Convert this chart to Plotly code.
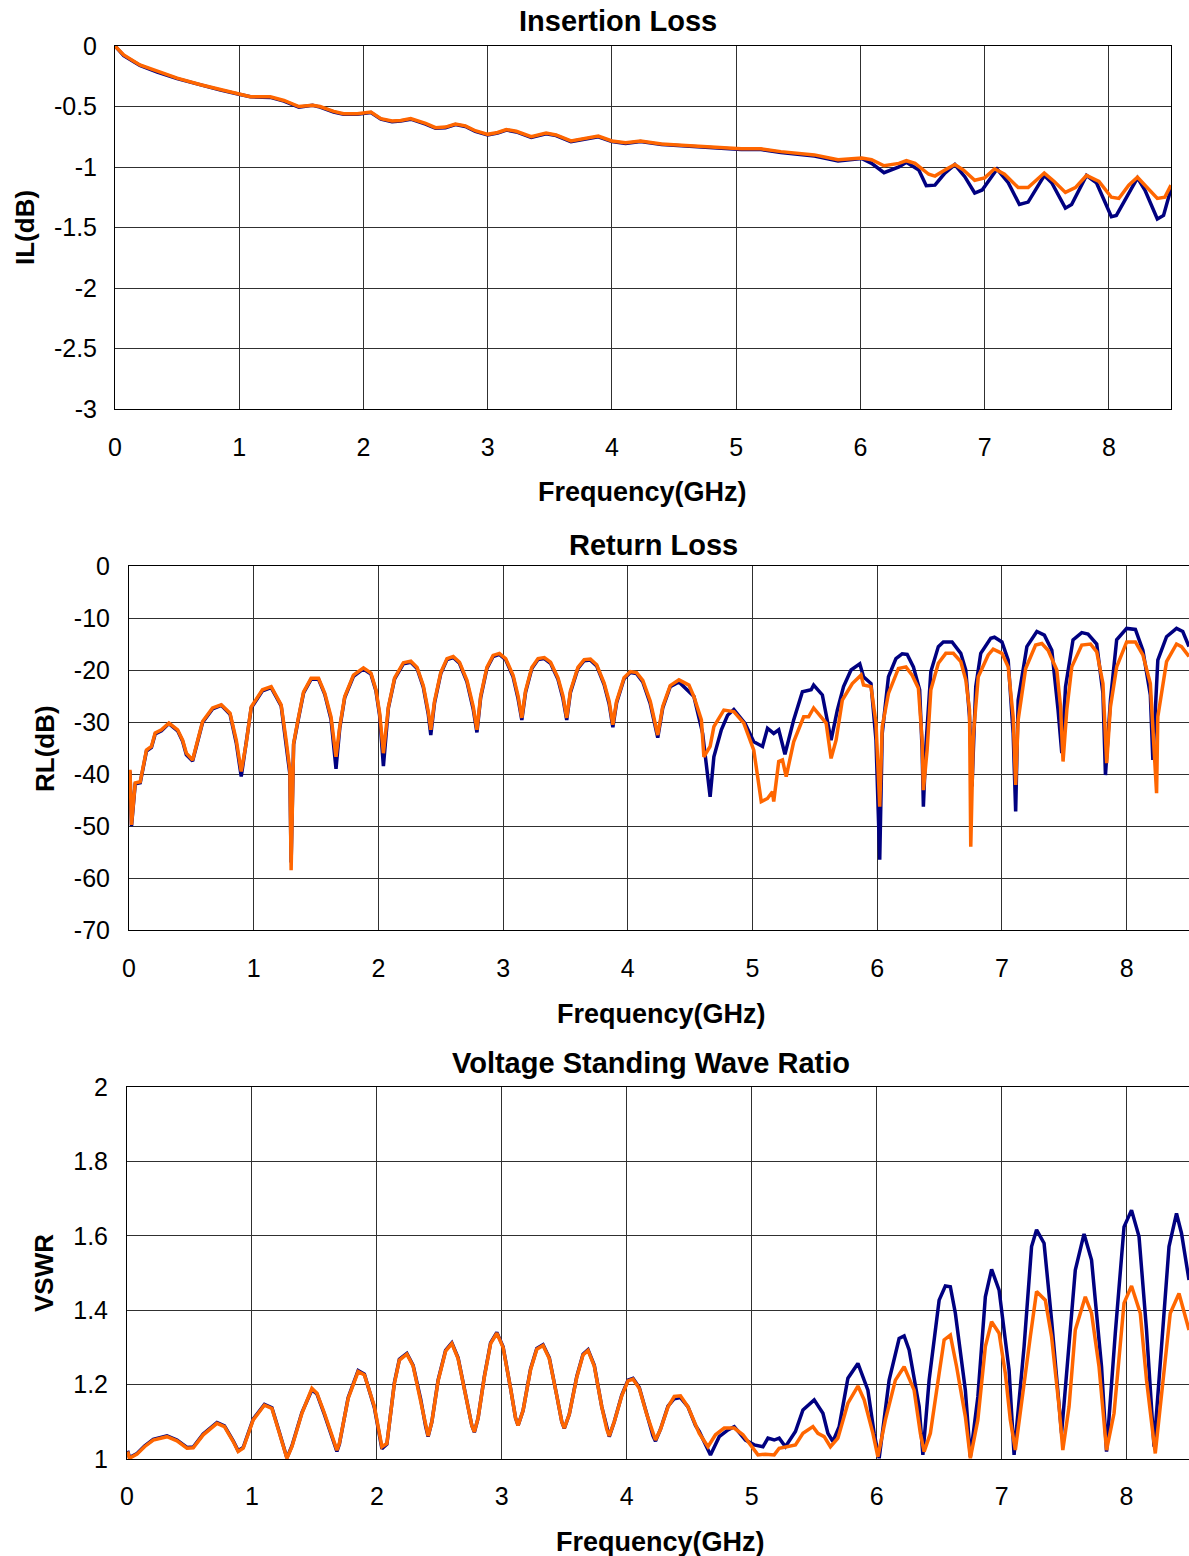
import plotly.graph_objects as go

# ---------------- data ----------------
# Insertion loss
il_f_orange = [0.00, 0.07, 0.20, 0.34, 0.50, 0.69, 0.85, 0.98, 1.09, 1.25, 1.36, 1.48, 1.59, 1.65, 1.76,
               1.84, 1.95, 2.06, 2.14, 2.23, 2.30, 2.38, 2.50, 2.58, 2.66, 2.74, 2.82, 2.90, 3.00, 3.08,
               3.15, 3.23, 3.35, 3.47, 3.55, 3.67, 3.79, 3.89, 4.00, 4.11, 4.23, 4.40, 4.56, 4.72, 4.88,
               5.04, 5.20, 5.36, 5.63, 5.82, 6.01, 6.09, 6.19, 6.31, 6.37, 6.44, 6.55, 6.60, 6.68, 6.76,
               6.83, 6.92, 7.00, 7.08, 7.16, 7.27, 7.35, 7.43, 7.48, 7.56, 7.65, 7.73, 7.82, 7.92, 8.02,
               8.08, 8.16, 8.23, 8.29, 8.39, 8.45, 8.50]
il_orange = [0.0, -0.074, -0.157, -0.21, -0.266, -0.32, -0.36, -0.39, -0.42, -0.42, -0.45, -0.50, -0.49,
             -0.50, -0.54, -0.56, -0.56, -0.545, -0.60, -0.62, -0.615, -0.60, -0.64, -0.675, -0.67, -0.645,
             -0.66, -0.70, -0.73, -0.715, -0.69, -0.705, -0.75, -0.72, -0.735, -0.785, -0.765, -0.745,
             -0.785, -0.80, -0.785, -0.81, -0.82, -0.83, -0.84, -0.85, -0.85, -0.873, -0.90, -0.94, -0.926,
             -0.94, -0.99, -0.97, -0.948, -0.97, -1.06, -1.075, -1.025, -0.98, -1.025, -1.11, -1.09,
             -1.015, -1.06, -1.17, -1.17, -1.09, -1.05, -1.12, -1.21, -1.17, -1.07, -1.12, -1.25, -1.26,
             -1.15, -1.085, -1.15, -1.26, -1.25, -1.15]

il_f_navy = [0.00, 0.07, 0.20, 0.34, 0.50, 0.69, 0.85, 0.98, 1.09, 1.25, 1.36, 1.48, 1.59, 1.65, 1.76,
             1.84, 1.95, 2.06, 2.14, 2.23, 2.30, 2.38, 2.50, 2.58, 2.66, 2.74, 2.82, 2.90, 3.00, 3.08,
             3.15, 3.23, 3.35, 3.47, 3.55, 3.67, 3.79, 3.89, 4.00, 4.11, 4.23, 4.40, 4.56, 4.72, 4.88,
             5.04, 5.20, 5.36, 5.63, 5.82, 6.01, 6.09, 6.19, 6.31, 6.37, 6.47, 6.53, 6.60, 6.68, 6.76,
             6.84, 6.92, 6.98, 7.10, 7.19, 7.28, 7.35, 7.48, 7.54, 7.65, 7.70, 7.82, 7.90, 8.02, 8.06,
             8.23, 8.29, 8.39, 8.44, 8.50]
il_navy = [0.0, -0.08, -0.16, -0.215, -0.27, -0.325, -0.365, -0.395, -0.42, -0.425, -0.455, -0.505, -0.49,
           -0.505, -0.545, -0.565, -0.565, -0.55, -0.605, -0.625, -0.62, -0.605, -0.645, -0.68, -0.675,
           -0.65, -0.665, -0.705, -0.735, -0.72, -0.695, -0.71, -0.755, -0.725, -0.74, -0.79, -0.77,
           -0.75, -0.79, -0.805, -0.79, -0.815, -0.825, -0.835, -0.845, -0.855, -0.855, -0.88, -0.91,
           -0.95, -0.93, -0.97, -1.047, -1.0, -0.96, -1.025, -1.155, -1.15, -1.05, -0.98, -1.08, -1.215,
           -1.19, -1.017, -1.13, -1.31, -1.29, -1.07, -1.13, -1.34, -1.31, -1.07, -1.13, -1.41, -1.40,
           -1.09, -1.19, -1.43, -1.40, -1.18]

# Return loss
rl_f_orange = [0.008, 0.02, 0.05, 0.09, 0.14, 0.18, 0.21, 0.26, 0.32, 0.39, 0.43, 0.46, 0.51, 0.59, 0.67,
               0.74, 0.81, 0.86, 0.90, 0.94, 0.98, 1.07, 1.14, 1.22, 1.26, 1.29, 1.30, 1.32, 1.36, 1.40,
               1.46, 1.52, 1.57, 1.62, 1.66, 1.69, 1.73, 1.80, 1.88, 1.94, 1.98, 2.01, 2.04, 2.08, 2.13,
               2.20, 2.26, 2.31, 2.36, 2.40, 2.42, 2.45, 2.50, 2.55, 2.60, 2.65, 2.71, 2.76, 2.79, 2.82,
               2.87, 2.92, 2.97, 3.02, 3.08, 3.12, 3.15, 3.18, 3.23, 3.28, 3.33, 3.38, 3.44, 3.48, 3.51,
               3.54, 3.60, 3.65, 3.70, 3.75, 3.81, 3.85, 3.88, 3.91, 3.97, 4.02, 4.07, 4.12, 4.18, 4.24,
               4.28, 4.34, 4.41, 4.49, 4.53, 4.59, 4.61, 4.66, 4.69, 4.77, 4.85, 4.93, 5.01, 5.07, 5.12,
               5.16, 5.17, 5.21, 5.24, 5.27, 5.33, 5.41, 5.45, 5.49, 5.59, 5.63, 5.67, 5.72, 5.80, 5.87,
               5.89, 5.95, 5.99, 6.02, 6.04, 6.09, 6.17, 6.23, 6.28, 6.33, 6.36, 6.37, 6.40, 6.43, 6.49,
               6.55, 6.61, 6.67, 6.71, 6.74, 6.75, 6.77, 6.81, 6.89, 6.93, 7.00, 7.05, 7.09, 7.11, 7.13,
               7.19, 7.27, 7.32, 7.37, 7.44, 7.47, 7.49, 7.52, 7.56, 7.64, 7.71, 7.76, 7.81, 7.84, 7.87,
               7.92, 8.00, 8.07, 8.13, 8.19, 8.24, 8.25, 8.32, 8.40, 8.44, 8.50]
rl_orange = [-39.2, -49.8, -41.7, -41.5, -35.4, -34.7, -32.1, -31.5, -30.2, -31.5, -33.5, -36.0, -37.3,
             -29.9, -27.3, -26.7, -28.3, -33.5, -39.5, -34.1, -27.1, -23.8, -23.2, -26.7, -33.5, -39.2,
             -58.5, -34.1, -29.0, -24.2, -21.6, -21.6, -24.5, -29.0, -36.7, -30.9, -25.1, -21.0, -19.6,
             -20.6, -23.8, -28.3, -36.0, -27.1, -21.5, -18.6, -18.3, -19.5, -23.0, -28.0, -31.5, -26.0,
             -20.5, -17.8, -17.4, -18.5, -22.0, -27.0, -31.5, -25.0, -19.5, -17.2, -16.8, -17.8, -21.0,
             -25.0, -29.2, -24.0, -19.5, -17.8, -17.6, -18.5, -21.5, -25.0, -29.2, -24.0, -19.5, -18.0,
             -17.9, -19.0, -22.5, -26.0, -30.5, -26.0, -21.5, -20.3, -20.5, -22.0, -26.0, -32.5, -27.0,
             -23.0, -21.9, -22.9, -25.1, -29.6, -36.7, -34.7, -30.9, -27.7, -28.0, -30.2, -35.4, -45.3,
             -44.7, -43.4, -45.3, -37.6, -37.3, -40.5, -33.8, -29.0, -29.0, -27.3, -30.2, -37.0, -33.5,
             -25.8, -22.6, -21.0, -22.9, -23.2, -30.2, -46.3, -30.9, -24.5, -19.7, -19.4, -21.0, -23.5,
             -33.5, -43.1, -35.4, -23.8, -18.7, -16.8, -16.8, -18.4, -21.9, -27.7, -54.0, -32.8, -21.3,
             -17.1, -16.0, -16.8, -19.4, -29.0, -42.1, -29.6, -19.7, -15.2, -14.9, -16.2, -20.0, -27.1,
             -37.6, -27.7, -19.4, -15.2, -15.0, -16.5, -22.6, -37.9, -27.1, -19.4, -14.6, -14.6, -17.1,
             -22.6, -43.7, -29.0, -18.4, -15.0, -15.5, -17.4]

rl_f_navy = [0.008, 0.02, 0.05, 0.09, 0.14, 0.18, 0.21, 0.26, 0.32, 0.39, 0.43, 0.46, 0.51, 0.59, 0.67,
             0.74, 0.81, 0.86, 0.90, 0.94, 0.98, 1.07, 1.14, 1.22, 1.26, 1.29, 1.30, 1.32, 1.36, 1.40,
             1.46, 1.52, 1.57, 1.62, 1.66, 1.69, 1.73, 1.80, 1.88, 1.94, 1.98, 2.01, 2.04, 2.08, 2.13,
             2.20, 2.26, 2.31, 2.36, 2.40, 2.42, 2.45, 2.50, 2.55, 2.60, 2.65, 2.71, 2.76, 2.79, 2.82,
             2.87, 2.92, 2.97, 3.02, 3.08, 3.12, 3.15, 3.18, 3.23, 3.28, 3.33, 3.38, 3.44, 3.48, 3.51,
             3.54, 3.60, 3.65, 3.70, 3.75, 3.81, 3.85, 3.88, 3.91, 3.97, 4.02, 4.07, 4.12, 4.18, 4.24,
             4.28, 4.34, 4.41, 4.53, 4.60, 4.64, 4.66, 4.69, 4.75, 4.80, 4.85, 4.94, 5.01, 5.08, 5.12,
             5.17, 5.21, 5.26, 5.33, 5.40, 5.47, 5.49, 5.56, 5.63, 5.68, 5.73, 5.79, 5.86, 5.89, 5.95,
             5.99, 6.02, 6.04, 6.09, 6.15, 6.20, 6.24, 6.29, 6.34, 6.36, 6.37, 6.39, 6.43, 6.49, 6.53,
             6.60, 6.67, 6.71, 6.74, 6.76, 6.79, 6.83, 6.91, 6.94, 7.00, 7.05, 7.09, 7.11, 7.13, 7.20,
             7.28, 7.34, 7.40, 7.45, 7.48, 7.51, 7.57, 7.64, 7.69, 7.76, 7.81, 7.83, 7.87, 7.92, 8.00,
             8.07, 8.13, 8.19, 8.21, 8.25, 8.32, 8.40, 8.45, 8.50]
rl_navy = [-39.5, -50.0, -41.9, -41.7, -35.6, -34.9, -32.3, -31.7, -30.3, -31.7, -33.7, -36.3, -37.5,
           -30.1, -27.5, -26.8, -28.5, -34.0, -40.5, -34.3, -27.3, -24.0, -23.4, -26.9, -34.0, -40.0,
           -57.0, -34.3, -29.2, -24.4, -21.8, -21.8, -24.7, -29.5, -39.0, -31.2, -25.3, -21.2, -19.8,
           -20.8, -24.0, -28.8, -38.5, -27.3, -21.7, -18.8, -18.5, -19.7, -23.3, -28.5, -32.5, -26.3,
           -20.7, -18.0, -17.6, -18.7, -22.3, -27.5, -32.0, -25.3, -19.7, -17.4, -17.0, -18.0, -21.3,
           -25.5, -29.6, -24.3, -19.7, -18.0, -17.8, -18.7, -21.8, -25.5, -29.6, -24.3, -19.7, -18.2,
           -18.1, -19.2, -22.8, -26.5, -31.0, -26.3, -21.7, -20.5, -20.7, -22.3, -26.5, -33.0, -27.3,
           -23.2, -22.3, -25.1, -32.2, -41.2, -44.4, -36.7, -31.5, -28.7, -27.6, -30.3, -33.8, -34.7,
           -31.2, -32.2, -31.5, -36.2, -29.6, -24.2, -23.8, -22.9, -24.8, -33.5, -27.7, -23.2, -20.0,
           -18.8, -21.3, -22.6, -33.5, -56.5, -32.2, -21.3, -17.8, -16.9, -17.0, -19.4, -23.8, -35.4,
           -46.3, -34.7, -20.3, -15.5, -14.6, -14.6, -16.8, -20.0, -29.0, -42.4, -23.2, -16.8, -13.9,
           -13.7, -14.6, -18.1, -32.2, -47.2, -25.8, -15.5, -12.6, -13.3, -16.2, -27.7, -36.0, -23.2,
           -14.2, -12.8, -13.1, -15.0, -24.5, -40.2, -25.8, -14.2, -12.0, -12.2, -16.2, -24.8, -37.3,
           -18.1, -13.6, -12.0, -12.6, -15.5]

# VSWR
vs_f_orange = [0.005, 0.02, 0.08, 0.14, 0.21, 0.32, 0.40, 0.48, 0.53, 0.61, 0.72, 0.78, 0.85, 0.89, 0.93,
               1.01, 1.10, 1.16, 1.22, 1.28, 1.32, 1.40, 1.48, 1.52, 1.58, 1.65, 1.68, 1.70, 1.77, 1.85,
               1.90, 1.98, 2.04, 2.08, 2.14, 2.18, 2.24, 2.29, 2.35, 2.39, 2.41, 2.44, 2.49, 2.55, 2.60,
               2.65, 2.71, 2.76, 2.78, 2.81, 2.86, 2.91, 2.96, 3.01, 3.07, 3.11, 3.13, 3.17, 3.23, 3.28,
               3.33, 3.38, 3.44, 3.48, 3.50, 3.54, 3.60, 3.65, 3.69, 3.74, 3.80, 3.84, 3.86, 3.90, 3.96,
               4.01, 4.05, 4.10, 4.16, 4.21, 4.23, 4.27, 4.33, 4.38, 4.43, 4.49, 4.55, 4.58, 4.65, 4.71,
               4.78, 4.86, 4.93, 4.99, 5.05, 5.11, 5.18, 5.22, 5.29, 5.35, 5.41, 5.49, 5.53, 5.58, 5.63,
               5.69, 5.77, 5.85, 5.90, 5.97, 6.01, 6.07, 6.15, 6.22, 6.30, 6.35, 6.38, 6.43, 6.50, 6.54,
               6.59, 6.64, 6.71, 6.75, 6.81, 6.87, 6.92, 6.98, 7.03, 7.07, 7.11, 7.15, 7.23, 7.28, 7.35,
               7.40, 7.46, 7.49, 7.54, 7.59, 7.67, 7.72, 7.78, 7.84, 7.90, 7.98, 8.04, 8.11, 8.16, 8.23,
               8.28, 8.35, 8.42, 8.50]
vs_orange = [1.020, 1.002, 1.013, 1.033, 1.051, 1.060, 1.049, 1.029, 1.030, 1.065, 1.096, 1.087, 1.047,
             1.020, 1.029, 1.105, 1.145, 1.136, 1.069, 1.002, 1.033, 1.123, 1.190, 1.177, 1.123, 1.051,
             1.024, 1.042, 1.163, 1.235, 1.226, 1.141, 1.033, 1.042, 1.203, 1.266, 1.282, 1.25, 1.16,
             1.09, 1.062, 1.10, 1.21, 1.29, 1.31, 1.27, 1.17, 1.09, 1.073, 1.11, 1.22, 1.31, 1.338, 1.30,
             1.19, 1.11, 1.09, 1.13, 1.24, 1.295, 1.305, 1.27, 1.17, 1.10, 1.083, 1.12, 1.22, 1.28, 1.292,
             1.25, 1.14, 1.08, 1.062, 1.10, 1.17, 1.21, 1.215, 1.19, 1.12, 1.065, 1.051, 1.08, 1.14, 1.168,
             1.17, 1.14, 1.09, 1.069, 1.033, 1.065, 1.083, 1.083, 1.065, 1.038, 1.011, 1.013, 1.011, 1.029,
             1.033, 1.038, 1.069, 1.087, 1.069, 1.060, 1.033, 1.056, 1.150, 1.196, 1.159, 1.069, 1.006,
             1.105, 1.212, 1.248, 1.185, 1.069, 1.020, 1.069, 1.230, 1.320, 1.333, 1.248, 1.114, 1.002,
             1.105, 1.302, 1.369, 1.338, 1.230, 1.105, 1.024, 1.132, 1.329, 1.450, 1.427, 1.329, 1.141,
             1.024, 1.141, 1.347, 1.436, 1.392, 1.248, 1.024, 1.123, 1.419, 1.465, 1.392, 1.212, 1.015,
             1.167, 1.392, 1.445, 1.347]

vs_f_navy = [0.005, 0.02, 0.08, 0.14, 0.21, 0.32, 0.40, 0.48, 0.53, 0.61, 0.72, 0.78, 0.85, 0.89, 0.93,
             1.01, 1.10, 1.16, 1.22, 1.28, 1.32, 1.40, 1.48, 1.52, 1.58, 1.65, 1.68, 1.70, 1.77, 1.85,
             1.90, 1.98, 2.04, 2.08, 2.14, 2.18, 2.24, 2.29, 2.35, 2.39, 2.41, 2.44, 2.49, 2.55, 2.60,
             2.65, 2.71, 2.76, 2.78, 2.81, 2.86, 2.91, 2.96, 3.01, 3.07, 3.11, 3.13, 3.17, 3.23, 3.28,
             3.33, 3.38, 3.44, 3.48, 3.50, 3.54, 3.60, 3.65, 3.69, 3.74, 3.80, 3.84, 3.86, 3.90, 3.96,
             4.01, 4.05, 4.10, 4.16, 4.21, 4.23, 4.27, 4.33, 4.38, 4.43, 4.49, 4.55, 4.58, 4.67, 4.74,
             4.81, 4.86, 4.95, 5.02, 5.09, 5.13, 5.18, 5.22, 5.27, 5.35, 5.41, 5.50, 5.57, 5.61, 5.65,
             5.70, 5.77, 5.85, 5.93, 5.98, 6.02, 6.10, 6.18, 6.22, 6.26, 6.34, 6.37, 6.42, 6.50, 6.55,
             6.59, 6.63, 6.71, 6.75, 6.81, 6.87, 6.92, 6.98, 7.06, 7.10, 7.18, 7.24, 7.28, 7.34, 7.40,
             7.48, 7.59, 7.66, 7.72, 7.80, 7.84, 7.91, 7.98, 8.04, 8.10, 8.16, 8.22, 8.30, 8.34, 8.40,
             8.44, 8.50]
vs_navy = [1.022, 1.004, 1.015, 1.035, 1.053, 1.062, 1.051, 1.031, 1.032, 1.067, 1.098, 1.089, 1.049,
           1.022, 1.031, 1.107, 1.147, 1.138, 1.071, 1.003, 1.035, 1.125, 1.186, 1.175, 1.120, 1.045,
           1.020, 1.040, 1.165, 1.238, 1.228, 1.138, 1.028, 1.040, 1.205, 1.268, 1.284, 1.252, 1.162,
           1.088, 1.060, 1.10, 1.212, 1.292, 1.312, 1.272, 1.172, 1.09, 1.072, 1.11, 1.222, 1.312, 1.340,
           1.302, 1.19, 1.11, 1.09, 1.13, 1.242, 1.297, 1.307, 1.272, 1.17, 1.10, 1.082, 1.12, 1.222,
           1.282, 1.294, 1.252, 1.14, 1.08, 1.060, 1.10, 1.172, 1.212, 1.217, 1.192, 1.12, 1.062, 1.048,
           1.08, 1.142, 1.162, 1.165, 1.14, 1.09, 1.074, 1.011, 1.060, 1.078, 1.087, 1.051, 1.038, 1.033,
           1.056, 1.051, 1.056, 1.033, 1.074, 1.132, 1.159, 1.123, 1.069, 1.047, 1.087, 1.217, 1.257,
           1.185, 1.069, 1.002, 1.212, 1.324, 1.331, 1.293, 1.141, 1.011, 1.212, 1.427, 1.465, 1.463,
           1.392, 1.185, 1.006, 1.167, 1.436, 1.510, 1.454, 1.239, 1.011, 1.302, 1.571, 1.616, 1.580,
           1.374, 1.069, 1.508, 1.605, 1.535, 1.248, 1.020, 1.338, 1.624, 1.669, 1.598, 1.347, 1.033,
           1.374, 1.571, 1.660, 1.607, 1.481]

il_ticks = [0, -0.5, -1, -1.5, -2, -2.5, -3]
il_ticktext = ["0", "-0.5", "-1", "-1.5", "-2", "-2.5", "-3"]
rl_ticks = [0, -10, -20, -30, -40, -50, -60, -70]
rl_ticktext = ["0", "-10", "-20", "-30", "-40", "-50", "-60", "-70"]
vs_ticks = [1, 1.2, 1.4, 1.6, 1.8, 2]
vs_ticktext = ["1", "1.2", "1.4", "1.6", "1.8", "2"]

# ---------------- figure ----------------
W, H = 1189, 1556
FONT = "Liberation Sans, Arial, sans-serif"
NAVY = "#000080"
ORANGE = "#FF6600"


def px(x):
    return x / W


def py(y):
    return 1 - y / H


fig = go.Figure()
panels = [
    ("x", "y", il_f_navy, il_navy, il_f_orange, il_orange),
    ("x2", "y2", rl_f_navy, rl_navy, rl_f_orange, rl_orange),
    ("x3", "y3", vs_f_navy, vs_navy, vs_f_orange, vs_orange),
]
for xa, ya, fn, vn, fo, vo in panels:
    fig.add_trace(go.Scatter(x=fn, y=vn, mode="lines", line=dict(color=NAVY, width=3.5),
                             xaxis=xa, yaxis=ya, showlegend=False))
    fig.add_trace(go.Scatter(x=fo, y=vo, mode="lines", line=dict(color=ORANGE, width=3.5),
                             xaxis=xa, yaxis=ya, showlegend=False))

axis_common = dict(showgrid=True, gridcolor="#303030", gridwidth=1, showline=True, linecolor="black",
                   linewidth=1, mirror=True, ticks="", zeroline=False, automargin=False,
                   tickfont=dict(family=FONT, size=25, color="black"))

fig.update_layout(
    width=W, height=H, margin=dict(l=0, r=0, t=0, b=0, pad=0),
    paper_bgcolor="white", plot_bgcolor="white",
    xaxis=dict(domain=[px(115), px(1171)], range=[0, 8.5], dtick=1, tick0=0, anchor="y",
               ticklabelstandoff=16, **axis_common),
    yaxis=dict(domain=[py(409), py(46)], range=[-3, 0], tickvals=il_ticks, ticktext=il_ticktext,
               anchor="x", ticklabelstandoff=12, **axis_common),
    xaxis2=dict(domain=[px(129), 1.0], range=[0, 8.5], dtick=1, tick0=0, anchor="y2",
                ticklabelstandoff=16, **axis_common),
    yaxis2=dict(domain=[py(930), py(566)], range=[-70, 0], tickvals=rl_ticks, ticktext=rl_ticktext,
                anchor="x2", ticklabelstandoff=13, **axis_common),
    xaxis3=dict(domain=[px(127), 1.0], range=[0, 8.5], dtick=1, tick0=0, anchor="y3",
                ticklabelstandoff=15, **axis_common),
    yaxis3=dict(domain=[py(1459), py(1087)], range=[1, 2], tickvals=vs_ticks, ticktext=vs_ticktext,
                anchor="x3", ticklabelstandoff=13, **axis_common),
)

texts = [
    ("Insertion Loss", 618, 21, 0, 29),
    ("Frequency(GHz)", 642, 492, 0, 27),
    ("IL(dB)", 25, 228, -90, 26),
    ("Return Loss", 653, 545, 0, 29),
    ("Frequency(GHz)", 661, 1014, 0, 27),
    ("RL(dB)", 45, 748, -90, 26),
    ("Voltage Standing Wave Ratio", 651, 1063, 0, 29),
    ("Frequency(GHz)", 660, 1542, 0, 27),
    ("VSWR", 44, 1273, -90, 26),
]
for t, x, y, ang, size in texts:
    fig.add_annotation(text="<b>%s</b>" % t, x=px(x), y=py(y), xref="paper", yref="paper",
                       xanchor="center", yanchor="middle", textangle=ang, showarrow=False,
                       font=dict(family=FONT, size=size, color="black"))

fig.write_html("out.html", config={"displayModeBar": False},
               post_script="document.body.style.margin='0px';")
